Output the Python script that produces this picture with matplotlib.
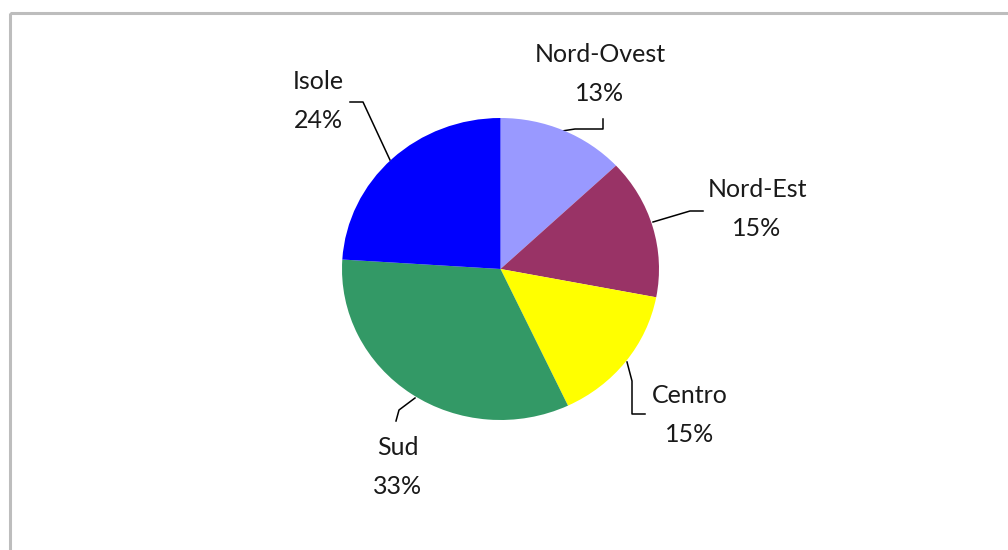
import matplotlib.pyplot as plt
from matplotlib.patches import Rectangle

# data
regions = ["Nord-Ovest", "Nord-Est", "Centro", "Sud", "Isole"]
shares = [13, 15, 15, 33, 24]
colors = ["#9999FF", "#993366", "#FFFF00", "#339966", "#0000FF"]

# label placement (pixel coords, y down) and leader lines
label_pos = {
    "Nord-Ovest": (600, 74),
    "Nord-Est": (757, 209),
    "Centro": (690, 415),
    "Sud": (398, 467),
    "Isole": (318, 101),
}
leaders = {
    "Nord-Ovest": [(562, 131), (575, 129), (603, 129), (603, 119)],
    "Nord-Est": [(653, 222), (690, 211), (703, 211)],
    "Centro": [(627, 362), (632, 381), (632, 414), (645, 414)],
    "Sud": [(415, 398), (399, 410), (396, 421)],
    "Isole": [(390, 160), (363, 102), (350, 102)],
}

W, H = 1008, 550
fig = plt.figure(figsize=(W / 100, H / 100), dpi=100)

# overlay axes in pixel coordinates for frame, labels, leaders
over = fig.add_axes([0, 0, 1, 1])
over.set_xlim(0, W)
over.set_ylim(H, 0)
over.axis("off")
over.add_patch(Rectangle((9.5, 12.5), 1100, 600, fill=False,
                         edgecolor="#bdbdbd", linewidth=2.2))

# pie axes, slightly wider than tall like the original
cx, cy, rx, ry = 500.5, 269, 158.5, 151
ax = fig.add_axes([(cx - rx) / W, (H - cy - ry) / H, 2 * rx / W, 2 * ry / H])
ax.pie(shares, colors=colors, startangle=90, counterclock=False,
       wedgeprops=dict(linewidth=0))
ax.set_aspect("auto")
ax.set_xlim(-1, 1)
ax.set_ylim(-1, 1)
ax.axis("off")

for name, share in zip(regions, shares):
    x, y = label_pos[name]
    over.text(x, y, f"{name}\n{share}%", ha="center", va="center",
              fontsize=18, family="Lato", color="#1a1a1a", linespacing=1.85)
    xs, ys = zip(*leaders[name])
    over.plot(xs, ys, color="black", linewidth=1.1)

fig.savefig("out.png", dpi=100)
